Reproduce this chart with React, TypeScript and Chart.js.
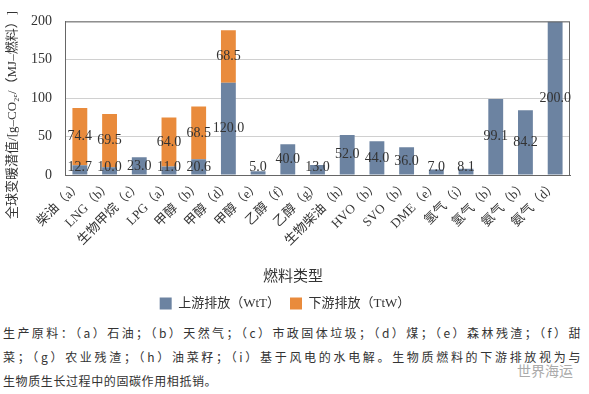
import React, { useEffect, useRef } from 'react';
import { Chart, registerables } from 'chart.js';

Chart.register(...registerables);

const categories = [
  '柴油（a）', 'LNG（b）', '生物甲烷（c）', 'LPG（a）', '甲醇（b）', '甲醇（d）', '甲醇（e）',
  '乙醇（f）', '乙醇（g）', '生物柴油（h）', 'HVO（b）', 'SVO（b）', 'DME（e）',
  '氢气（i）', '氢气（b）', '氨气（b）', '氨气（d）',
];
const upstreamWtT = [12.7, 10.0, 23.0, 11.0, 20.6, 120.0, 5.0, 40.0, 13.0, 52.0, 44.0, 36.0, 7.0, 8.1, 99.1, 84.2, 200.0];
const downstreamTtW = [74.4, 69.5, null, 64.0, 68.5, 68.5, null, null, null, null, null, null, null, null, null, null, null];
const seriesNames = ['上游排放（WtT）', '下游排放（TtW）'];
const yMin = 0;
const yMax = 200;
const yStep = 50;
const yTitle = '全球变暖潜值/[g–CO₂ₑ/（MJ–燃料）]';
const xTitle = '燃料类型';
const noteLines = [
  '生产原料：（a）石油；（b）天然气；（c）市政固体垃圾；（d）煤；（e）森林残渣；（f）甜',
  '菜；（g）农业残渣；（h）油菜籽；（i）基于风电的水电解。生物质燃料的下游排放视为与',
  '生物质生长过程中的固碳作用相抵销。',
];

const BLUE = '#6c83a1';
const ORANGE = '#e98b3c';
const SERIF = '"Liberation Serif", "Noto Sans CJK SC", serif';

const extrasPlugin = {
  id: 'extras',
  afterDatasetsDraw(chart: any) {
    const { ctx, chartArea } = chart;
    ctx.save();
    // plot border
    ctx.strokeStyle = '#666';
    ctx.lineWidth = 1;
    ctx.strokeRect(chartArea.left + 0.5, chartArea.top + 0.5, chartArea.right - chartArea.left - 1, chartArea.bottom - chartArea.top);
    // value labels
    ctx.font = '14px ' + SERIF;
    ctx.fillStyle = '#333';
    ctx.textAlign = 'center';
    ctx.textBaseline = 'middle';
    chart.data.datasets.forEach((ds: any, di: number) => {
      const meta = chart.getDatasetMeta(di);
      meta.data.forEach((el: any, i: number) => {
        const v = ds.data[i];
        if (v == null) return;
        const p = el.getProps(['x', 'y', 'base'], true);
        let cy = (p.y + p.base) / 2;
        if (di === 0) cy = Math.min(cy, p.base - 7);
        ctx.fillText(Number(v).toFixed(1), p.x, cy);
      });
    });
    // y title
    ctx.save();
    ctx.translate(13, 115);
    ctx.rotate(-Math.PI / 2);
    ctx.font = '13px ' + SERIF;
    ctx.fillStyle = '#333';
    ctx.fillText(yTitle, 0, 0);
    ctx.restore();
    // x title
    ctx.font = '15px ' + SERIF;
    ctx.fillStyle = '#333';
    ctx.fillText(xTitle, 293, 277);
    ctx.restore();
  },
};

export default function App() {
  const ref = useRef<HTMLCanvasElement | null>(null);
  useEffect(() => {
    if (!ref.current) return;
    const chart = new Chart(ref.current, {
      type: 'bar',
      data: {
        labels: categories,
        datasets: [
          { label: seriesNames[0], data: upstreamWtT, backgroundColor: BLUE, barPercentage: 0.5, categoryPercentage: 1 },
          { label: seriesNames[1], data: downstreamTtW as any, backgroundColor: ORANGE, barPercentage: 0.5, categoryPercentage: 1 },
        ],
      },
      options: {
        animation: false,
        responsive: false,
        layout: { padding: { left: 0, right: 19, top: 0, bottom: 0 } },
        plugins: {
          tooltip: { enabled: false },
          legend: {
            position: 'bottom',
            labels: {
              boxWidth: 12,
              boxHeight: 12,
              padding: 10,
              color: '#333',
              font: { size: 13, family: SERIF },
            },
          },
        },
        scales: {
          x: {
            stacked: true,
            grid: { display: false, drawTicks: false },
            border: { color: '#666' },
            ticks: {
              minRotation: 45,
              maxRotation: 45,
              autoSkip: false,
              padding: 3,
              color: '#333',
              font: { size: 13, family: SERIF },
            },
            afterFit: (s: any) => { s.height = 112; },
          },
          y: {
            stacked: true,
            min: yMin,
            max: yMax,
            grid: { color: '#d0d0d0', drawTicks: false },
            border: { color: '#666' },
            ticks: {
              stepSize: yStep,
              padding: 13,
              color: '#333',
              font: { size: 14, family: SERIF },
            },
            afterFit: (s: any) => { s.width = 65; },
          },
        },
      },
      plugins: [extrasPlugin],
    });
    return () => chart.destroy();
  }, []);

  return (
    <div style={{ position: 'absolute', left: 0, top: 0, width: 589, height: 394, background: '#fff', overflow: 'hidden' }}>
      <canvas ref={ref} width={589} height={320} style={{ display: 'block', width: 589, height: 320 }} />
      {noteLines.map((t, i) => (
        <div
          key={i}
          style={{
            position: 'absolute',
            left: 3,
            top: 321 + i * 24,
            width: 578,
            height: 24,
            lineHeight: '24px',
            fontSize: 12,
            letterSpacing: '0.6px',
            color: '#333',
            fontFamily: '"Noto Sans CJK SC", sans-serif',
            whiteSpace: 'nowrap',
            textAlign: i < 2 ? 'justify' : 'left',
            textAlignLast: i < 2 ? 'justify' : 'left',
          } as any}
        >
          {t}
        </div>
      ))}
      <div style={{ position: 'absolute', left: 517, top: 360, fontSize: 14, color: '#aaa', fontFamily: '"Noto Sans CJK SC", sans-serif', lineHeight: '20px' }}>
        世界海运
      </div>
    </div>
  );
}
